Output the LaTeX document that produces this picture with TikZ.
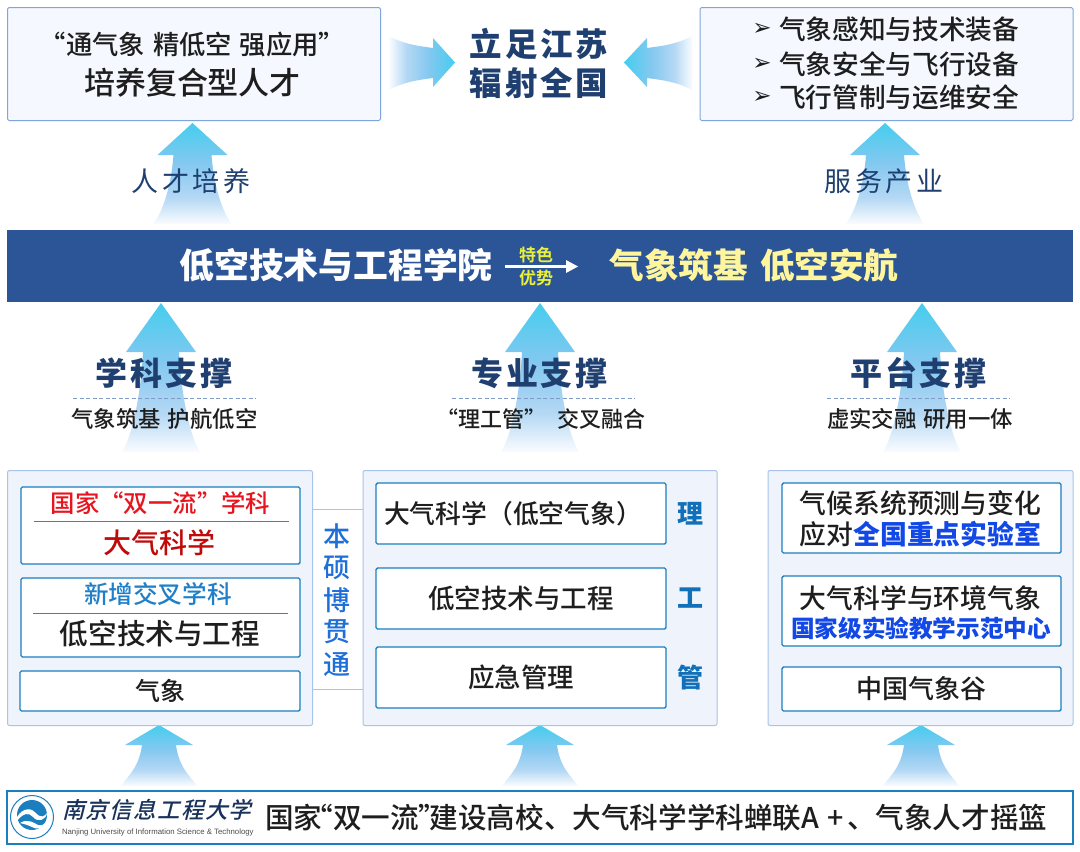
\documentclass[tikz,border=0pt]{standalone}
\usepackage{fontspec}
\setmainfont{Noto Sans CJK SC Medium}
\newfontfamily\lsreg[LetterSpace=14]{Noto Sans CJK SC}
\newfontfamily\lsbold[LetterSpace=9]{Noto Sans CJK SC Black}
\newfontfamily\cjkbold{Noto Sans CJK SC Bold}
\newfontfamily\cjkheavy{Noto Sans CJK SC Black}
\newfontfamily\cjkslant[FakeSlant=0.25,LetterSpace=6]{Noto Sans CJK SC Medium}
\newfontfamily\dingfont{DejaVu Sans}
\newfontfamily\latinfont{Liberation Sans}
\newcommand{\fsz}[1]{\fontsize{#1}{#1}\selectfont}
\definecolor{arrowcyan}{HTML}{45CDEE}
\definecolor{arrowmid}{HTML}{84C8F0}
\definecolor{arrowlow}{HTML}{B4D8F4}
\definecolor{arrowfade}{HTML}{FAFCFF}
\definecolor{navy}{HTML}{1F3F70}
\definecolor{bannerblue}{HTML}{2C5597}
\definecolor{softedge}{HTML}{A9C4E8}
\definecolor{topedge}{HTML}{7FA6DC}
\definecolor{topfill}{HTML}{F5F8FF}
\definecolor{panelfill}{HTML}{EFF4FC}
\definecolor{tealedge}{HTML}{1B7FBF}
\definecolor{inktext}{HTML}{1E1E1E}
\definecolor{redtext}{HTML}{E8141E}
\definecolor{darkred}{HTML}{C00A0A}
\definecolor{midblue}{HTML}{1F7FC8}
\definecolor{royal}{HTML}{1F6FD8}
\definecolor{deepblue}{HTML}{1248E6}
\definecolor{tgmblue}{HTML}{1270B8}
\definecolor{bannertext}{HTML}{FFF59D}
\definecolor{tinyyellow}{HTML}{E8F03C}
\definecolor{dashblue}{HTML}{7F9CC8}
\pgfdeclareverticalshading{arrowup}{100bp}{color(0bp)=(arrowfade); color(25bp)=(arrowfade); color(38bp)=(arrowlow); color(55bp)=(arrowmid); color(75bp)=(arrowcyan); color(100bp)=(arrowcyan)}
\pgfdeclarehorizontalshading{arrowright}{100bp}{color(0bp)=(arrowfade); color(25bp)=(arrowfade); color(38bp)=(arrowlow); color(55bp)=(arrowmid); color(75bp)=(arrowcyan); color(100bp)=(arrowcyan)}
\pgfdeclarehorizontalshading{arrowleft}{100bp}{color(0bp)=(arrowcyan); color(25bp)=(arrowcyan); color(45bp)=(arrowmid); color(62bp)=(arrowlow); color(75bp)=(arrowfade); color(100bp)=(arrowfade)}
\newcommand{\uparr}[7]{% cx tip base bottom headhalf shafthalf bottomhalf
  \shade[shading=arrowup]
    (#1,#2) -- ({#1+#5},#3) -- ({#1+#6},#3)
    .. controls ({#1+#6+3},{#3+(#4-#3)*0.55}) and ({#1+#7-7},{#4-10}) .. ({#1+#7},#4)
    -- ({#1-#7},#4)
    .. controls ({#1-#7+7},{#4-10}) and ({#1-#6-3},{#3+(#4-#3)*0.55}) .. ({#1-#6},#3)
    -- ({#1-#5},#3) -- cycle;}
\tikzset{
  x=1pt,y=-1pt,
  topbox/.style={draw=topedge,line width=1pt,fill=topfill,rounded corners=1.5pt,anchor=north west,inner sep=0pt,outer sep=0pt},
  panelbox/.style={draw=softedge,line width=1pt,fill=panelfill,rounded corners=2pt,anchor=north west,inner sep=0pt,outer sep=0pt},
  innerbox/.style={draw=tealedge,line width=1.4pt,fill=white,rounded corners=1.5pt,anchor=north west,inner sep=0pt,outer sep=0pt,text=inktext},
  lbl/.style={inner sep=0pt,outer sep=0pt,text=inktext,align=center},
  divider/.style={draw=softedge!60!black,line width=0.6pt},
  dashline/.style={draw=dashblue,line width=0.7pt,dash pattern=on 4pt off 2.5pt},
}
\begin{document}
\begin{tikzpicture}
\useasboundingbox (0,0) rectangle (1080,852);
\fill[white] (0,0) rectangle (1080,852);

% block arrows
\uparr{192.5}{123}{155}{224}{35}{19}{39}
\uparr{885}{123}{155}{224}{35}{19}{39}
\uparr{161}{303}{352}{452}{35}{18}{39}
\uparr{540}{303}{352}{452}{35}{18}{39}
\uparr{922}{303}{352}{452}{35}{18}{39}
\uparr{159}{725}{745}{786}{34}{17}{38}
\uparr{540}{725}{745}{786}{34}{17}{38}
\uparr{921}{725}{745}{786}{34}{17}{38}
\shade[shading=arrowright]
  (389,36) .. controls (403,44) and (418,46) .. (433,48) -- (433,38) -- (455,62.5) -- (433,87) -- (433,78)
  .. controls (418,80) and (403,82) .. (389,90) -- cycle;
\shade[shading=arrowleft]
  (692,36) .. controls (678,44) and (662,46) .. (647,48) -- (647,38) -- (624,62.5) -- (647,87) -- (647,78)
  .. controls (662,80) and (678,82) .. (692,90) -- cycle;

% top row
\node[topbox,minimum width=373pt,minimum height=113pt] (talent) at (7.5,7.5) {};
\node[lbl] (talentA) at (192.5,44) {\fsz{26.3}“通气象\hspace{0.3em}精低空\hspace{0.3em}强应用”};
\node[lbl] (talentB) at (192.5,83) {\fsz{31}培养复合型人才};
\node[lbl,text=navy] (goalA) at (539,44) {\fsz{32.5}\lsbold 立足江苏};
\node[lbl,text=navy] (goalB) at (539,83) {\fsz{32.5}\lsbold 辐射全国};
\node[topbox,minimum width=373pt,minimum height=113pt] (industry) at (700,7.5) {};
\node[lbl,anchor=west] (indA) at (779,29) {\fsz{26.7}气象感知与技术装备};
\node[lbl,anchor=west] (indB) at (779,64) {\fsz{26.7}气象安全与飞行设备};
\node[lbl,anchor=west] (indC) at (779,97) {\fsz{26.7}飞行管制与运维安全};
\node[lbl] (bulA) at (762,29) {\fsz{23}\dingfont ➢};
\node[lbl] (bulB) at (762,64) {\fsz{23}\dingfont ➢};
\node[lbl] (bulC) at (762,97) {\fsz{23}\dingfont ➢};
\node[lbl,text=navy] (peopleLbl) at (191,181) {\fsz{27}\lsreg 人才培养};
\node[lbl,text=navy] (serveLbl) at (884,181) {\fsz{27}\lsreg 服务产业};

% banner
\fill[bannerblue] (7,230) rectangle (1073,302);
\node[lbl,text=white] (college) at (336,265) {\fsz{34.8}\cjkheavy 低空技术与工程学院};
\node[lbl,text=bannertext] (motto) at (754,265) {\fsz{34.6}\cjkheavy 气象筑基\hspace{0.35em}低空安航};
\node[lbl,text=tinyyellow] (teSe) at (536,255) {\fsz{17}\cjkbold 特色};
\node[lbl,text=tinyyellow] (youShi) at (536,278) {\fsz{17}\cjkbold 优势};
\coordinate (featA) at (505,266.5);
\coordinate (featB) at (578,266.5);
\fill[white] (featA) ++(0,-1.1) rectangle (566,267.6);
\fill[white] (566,260) -- (featB) -- (566,273) -- cycle;

% middle headings
\node[lbl,text=navy] (hA) at (164,373.5) {\fsz{32}\lsbold 学科支撑};
\node[lbl,text=navy] (hB) at (539.5,373.5) {\fsz{32}\lsbold 专业支撑};
\node[lbl,text=navy] (hC) at (918.5,373.5) {\fsz{32}\lsbold 平台支撑};
\coordinate (dA1) at (73,398); \coordinate (dA2) at (256,398);
\coordinate (dB1) at (452,398); \coordinate (dB2) at (635,398);
\coordinate (dC1) at (827,398); \coordinate (dC2) at (1010,398);
\draw[dashline] (dA1) -- (dA2);
\draw[dashline] (dB1) -- (dB2);
\draw[dashline] (dC1) -- (dC2);
\node[lbl] (sA) at (164.5,419) {\fsz{22.4}气象筑基\hspace{0.3em}护航低空};
\node[lbl] (sB) at (541,419) {\fsz{22}“理工管”\hspace{0.5em}交叉融合};
\node[lbl] (sC) at (920,419) {\fsz{22.4}虚实交融\hspace{0.3em}研用一体};

% panels
\node[panelbox,minimum width=305pt,minimum height=255pt] (pL) at (7.5,470.5) {};
\node[panelbox,minimum width=354pt,minimum height=255pt] (pM) at (363,470.5) {};
\node[panelbox,minimum width=305pt,minimum height=255pt] (pR) at (768,470.5) {};
\coordinate (linkA) at (337,509);
\coordinate (linkB) at (337,689);
\draw[softedge,line width=1pt] (pL.east |- linkA) -- (pM.west |- linkA);
\draw[softedge,line width=1pt] (pL.east |- linkB) -- (pM.west |- linkB);
\node[lbl,text=royal] (bsA) at (337,536) {\fsz{27}本};
\node[lbl,text=royal] (bsB) at (337,568) {\fsz{27}硕};
\node[lbl,text=royal] (bsC) at (337,600) {\fsz{27}博};
\node[lbl,text=royal] (bsD) at (337,632) {\fsz{27}贯};
\node[lbl,text=royal] (bsE) at (337,665) {\fsz{27}通};

% left panel
\node[innerbox,minimum width=279pt,minimum height=77pt] (lA) at (21,487) {};
\node[lbl,text=redtext] (lAt) at (160.5,503) {\fsz{24.4}国家“双一流”学科};
\draw[divider] (34,521) -- (289,521);
\node[lbl,text=darkred] (lAb) at (159,543) {\fsz{28}大气科学};
\node[innerbox,minimum width=279pt,minimum height=79pt] (lB) at (21,578) {};
\node[lbl,text=midblue] (lBt) at (158,594) {\fsz{24.6}新增交叉学科};
\draw[divider] (33,613) -- (288,613);
\node[lbl] (lBb) at (160,634) {\fsz{28.6}低空技术与工程};
\node[innerbox,minimum width=280pt,minimum height=40pt] (lC) at (20,671) {\fsz{25}气象};

% middle panel
\node[innerbox,minimum width=290pt,minimum height=61pt] (mA) at (376,483) {};
\node[lbl] (mAt) at (513,514) {\fsz{25.8}大气科学（低空气象）};
\node[innerbox,minimum width=290pt,minimum height=61pt] (mB) at (376,568) {\fsz{26.5}低空技术与工程};
\node[innerbox,minimum width=290pt,minimum height=61pt] (mC) at (376,647) {\fsz{26.5}应急管理};
\node[lbl,text=tgmblue] (tL) at (690,514) {\fsz{26}\cjkheavy 理};
\node[lbl,text=tgmblue] (tG) at (690,598) {\fsz{26}\cjkheavy 工};
\node[lbl,text=tgmblue] (tM) at (690,678) {\fsz{26}\cjkheavy 管};

% right panel
\node[innerbox,minimum width=279pt,minimum height=70pt] (rA) at (782,483) {};
\node[lbl] (rAt) at (920.5,503) {\fsz{26.8}气候系统预测与变化};
\node[lbl] (rAb) at (920.5,534) {\fsz{26.8}应对{\cjkheavy\color{deepblue}全国重点实验室}};
\node[innerbox,minimum width=279pt,minimum height=70pt] (rB) at (782,576) {};
\node[lbl] (rBt) at (920.5,598) {\fsz{26.8}大气科学与环境气象};
\node[lbl,text=deepblue] (rBb) at (921,628) {\fsz{23.6}\cjkheavy 国家级实验教学示范中心};
\node[innerbox,minimum width=279pt,minimum height=44pt] (rC) at (782,667) {\fsz{26}中国气象谷};

% bottom bar
\node[innerbox,line width=1.3pt,rounded corners=0pt,minimum width=1066pt,minimum height=53pt] (uni) at (7,791) {};
\node[lbl,anchor=west] (uniT) at (265,817.5) {\fsz{28.6}国家\hspace{-0.62em}“双一流”\hspace{-0.62em}建设高校、大气科学学科蝉联A\hspace{0.3em}+\hspace{0.1em}、气象人才摇篮};
\node[lbl,anchor=west,text=navy!80!black] (uniCn) at (62,810) {\fsz{22.5}\cjkslant 南京信息工程大学};
\node[lbl,anchor=west,text=black!70] (uniEn) at (62,832.5) {\fsz{7.8}\latinfont Nanjing University of Information Science \& Technology};

% logo
\fill[white] (32,817) circle (22);
\draw[tealedge,line width=1pt] (32,817) circle (21.5);
\fill[tealedge] (32,815) circle (15);
\fill[white] (17,817) .. controls (23,807) and (32,808) .. (36,813) .. controls (41,819) and (45,816) .. (47,813)
  .. controls (46,820) and (38,823) .. (33,817) .. controls (29,812) and (23,813) .. (17,821) -- cycle;
\fill[white] (20,823) .. controls (28,818) and (34,823) .. (38,825) .. controls (41,826) and (44,825) .. (45,823)
  .. controls (42,829) and (37,830) .. (32,827) .. controls (28,825) and (24,824) .. (20,823) -- cycle;
\end{tikzpicture}
\end{document}
